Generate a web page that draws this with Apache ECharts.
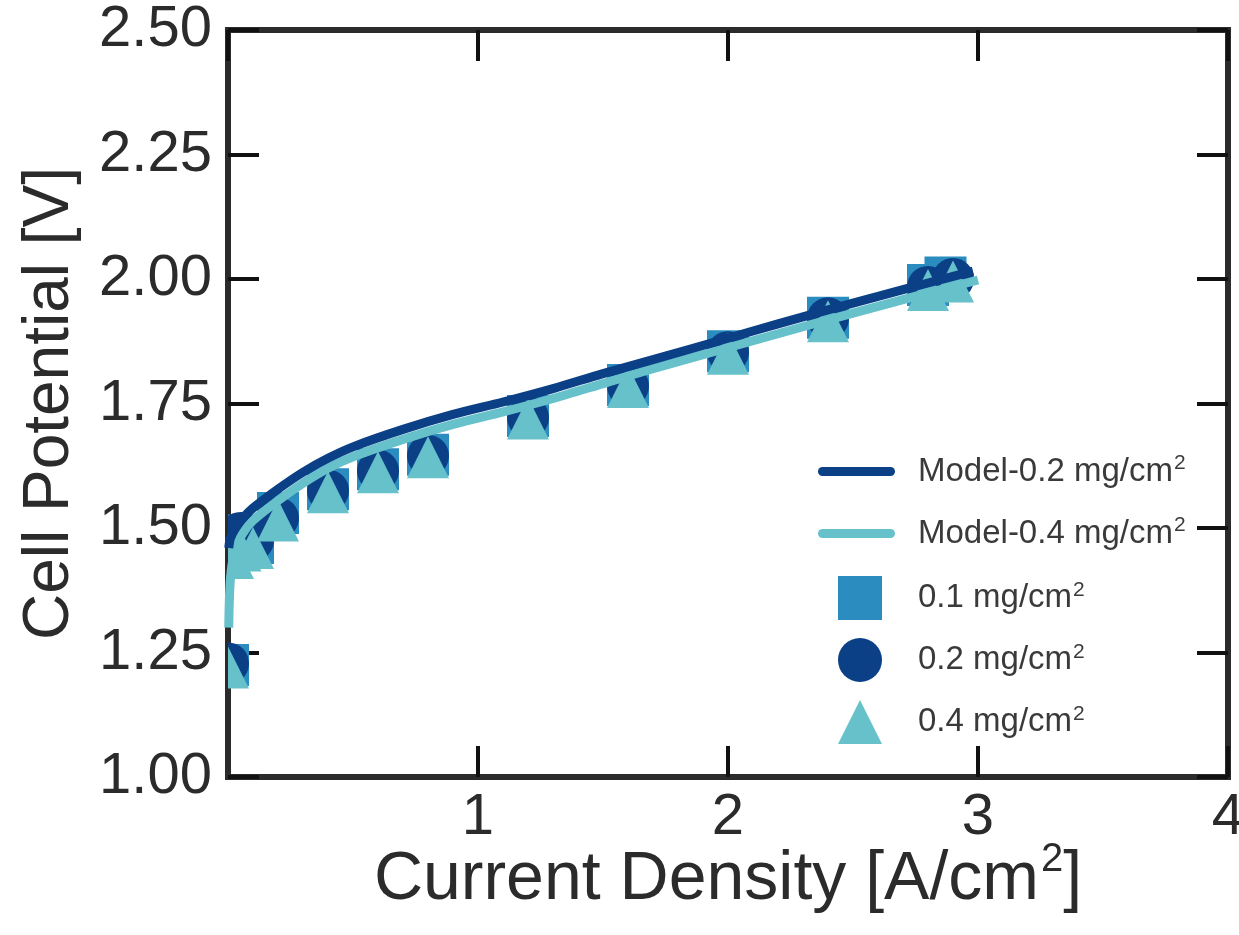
<!DOCTYPE html>
<html><head><meta charset="utf-8">
<script src="https://cdn.jsdelivr.net/npm/echarts@6/dist/echarts.min.js"></script>
<style>html,body{margin:0;padding:0;background:#fff}#c{width:1239px;height:935px}</style>
</head><body><div id="c"></div>
<script>
// ---- data ----
const xTickValues = [0, 1, 2, 3, 4];
const yTickValues = [1.00, 1.25, 1.50, 1.75, 2.00, 2.25, 2.50];

const modelDarkX = [0.003, 0.01, 0.03, 0.06, 0.1, 0.2, 0.3, 0.4, 0.5, 0.7, 0.9, 1.1, 1.3, 1.5, 1.7, 2.0, 2.2, 2.4, 2.6, 2.8, 2.98];
const modelDarkY = [1.46, 1.48, 1.50, 1.52, 1.54, 1.578, 1.612, 1.64, 1.663, 1.698, 1.728, 1.753, 1.780, 1.810, 1.838, 1.881, 1.910, 1.938, 1.965, 1.992, 2.016];

const modelLightX = [0.003, 0.01, 0.03, 0.06, 0.1, 0.2, 0.3, 0.4, 0.5, 0.7, 0.9, 1.1, 1.3, 1.5, 1.7, 2.0, 2.2, 2.4, 2.6, 2.8, 3.0];
const modelLightY = [1.30, 1.40, 1.46, 1.49, 1.515, 1.555, 1.59, 1.62, 1.643, 1.678, 1.708, 1.733, 1.760, 1.790, 1.820, 1.862, 1.890, 1.918, 1.945, 1.972, 1.998];

const sq01X = [0.0, 0.02, 0.05, 0.1, 0.2, 0.4, 0.6, 0.8, 1.2, 1.6, 2.0, 2.4, 2.8, 2.87];
const sq01Y = [1.225, 1.47, 1.485, 1.47, 1.53, 1.578, 1.618, 1.647, 1.725, 1.787, 1.855, 1.922, 1.988, 2.003];

const ci02X = [0.0, 0.02, 0.05, 0.1, 0.2, 0.4, 0.6, 0.8, 1.2, 1.6, 2.0, 2.4, 2.8, 2.9];
const ci02Y = [1.228, 1.48, 1.49, 1.475, 1.52, 1.575, 1.615, 1.645, 1.722, 1.785, 1.853, 1.921, 1.984, 2.0];

const tr04X = [0.0, 0.02, 0.05, 0.1, 0.2, 0.4, 0.6, 0.8, 1.2, 1.6, 2.0, 2.4, 2.8, 2.9];
const tr04Y = [1.22, 1.44, 1.455, 1.46, 1.515, 1.572, 1.612, 1.642, 1.72, 1.783, 1.85, 1.915, 1.978, 1.995];

const seriesNames = ['Model-0.2 mg/cm2', 'Model-0.4 mg/cm2', '0.1 mg/cm2', '0.2 mg/cm2', '0.4 mg/cm2'];

// ---- style ----
const C_DARK = '#0b3f86';
const C_LIGHT = '#66c1cb';
const C_SQ = '#2b8cc0';
const FONT = 'Liberation Sans, Arial, sans-serif';
const TXT = '#2b2b2b';

const zip = (xs, ys) => xs.map((x, i) => [x, ys[i]]);
const MS = 21;

function markerSeries(name, xs, ys, color, kind) {
  return {
    type: 'custom', name, clip: true,
    itemStyle: { color },
    data: zip(xs, ys),
    renderItem: (params, api) => {
      const p = api.coord([api.value(0), api.value(1)]);
      const style = { fill: color };
      if (kind === 'rect') return { type: 'rect', shape: { x: p[0] - MS, y: p[1] - MS, width: 2 * MS, height: 2 * MS }, style };
      if (kind === 'circle') return { type: 'circle', shape: { cx: p[0], cy: p[1], r: MS }, style };
      return { type: 'polygon', shape: { points: [[p[0], p[1] - MS], [p[0] + MS, p[1] + MS], [p[0] - MS, p[1] + MS]] }, style };
    }
  };
}

const legendRich = {
  t: { fontSize: 33, fontFamily: FONT, color: '#3a3a3a' },
  s: { fontSize: 21, fontFamily: FONT, color: '#3a3a3a', padding: [0, 0, 16, 1] }
};
const legendFmt = name => '{t|' + name.slice(0, -1) + '}{s|2}';
const linePath = 'path://M4.5,0 H72.5 A4.5,4.5 0 0 1 72.5,9 H4.5 A4.5,4.5 0 0 1 4.5,0 Z';

function lineLegend(name, top) {
  return {
    data: [{ name, icon: linePath }], left: 818, top, padding: 0, orient: 'vertical',
    itemWidth: 77, itemHeight: 9, selectedMode: false, formatter: legendFmt,
    textStyle: { padding: [0, 0, 0, 18], rich: legendRich }
  };
}
function markLegend(name, icon, top) {
  return {
    data: [{ name, icon }], left: 838, top, padding: 0, orient: 'vertical',
    itemWidth: 44, itemHeight: 44, selectedMode: false, formatter: legendFmt,
    textStyle: { padding: [0, 0, 0, 31], rich: legendRich }
  };
}

const chart = echarts.init(document.getElementById('c'), null, { renderer: 'canvas' });
const tick = () => ({ show: true, inside: true, length: 31, lineStyle: { color: '#111', width: 4 } });
const noLine = () => ({ show: false, onZero: false });

chart.setOption({
  animation: false,
  backgroundColor: '#fff',
  grid: { left: 228, right: 11, top: 30, bottom: 158, outerBoundsMode: 'none', containLabel: false,
    show: true, borderColor: '#2b2b2b', borderWidth: 6, backgroundColor: 'transparent' },
  xAxis: [
    {
      type: 'value', min: xTickValues[0], max: xTickValues[xTickValues.length - 1], interval: 1, position: 'bottom',
      axisLine: noLine(), splitLine: { show: false }, axisTick: tick(),
      axisLabel: { margin: 12, fontSize: 58, fontFamily: FONT, color: TXT, showMinLabel: false, formatter: v => String(v) },
      name: '{a|Current Density [A/cm}{s|2}{a|]}', nameLocation: 'middle', nameGap: 63, nameMoveOverlap: false,
      nameTextStyle: { rich: { a: { fontSize: 68, fontFamily: FONT, color: TXT }, s: { fontSize: 40, fontFamily: FONT, color: TXT, padding: [0, 0, 40, 2] } } }
    },
    {
      type: 'value', min: 0, max: 4, interval: 1, position: 'top',
      axisLine: noLine(), splitLine: { show: false }, axisTick: tick(), axisLabel: { show: false }
    }
  ],
  yAxis: [
    {
      type: 'value', min: yTickValues[0], max: yTickValues[yTickValues.length - 1], interval: 0.25, position: 'left',
      axisLine: noLine(), splitLine: { show: false }, axisTick: tick(),
      axisLabel: { margin: 16, fontSize: 58, fontFamily: FONT, color: TXT, formatter: v => v.toFixed(2) },
      name: 'Cell Potential [V]', nameLocation: 'middle', nameGap: 146, nameRotate: 90, nameMoveOverlap: false,
      nameTextStyle: { fontSize: 64, fontFamily: FONT, color: TXT }
    },
    {
      type: 'value', min: 1, max: 2.5, interval: 0.25, position: 'right',
      axisLine: noLine(), splitLine: { show: false }, axisTick: tick(), axisLabel: { show: false }
    }
  ],
  legend: [
    lineLegend(seriesNames[0], 453),
    lineLegend(seriesNames[1], 515),
    markLegend(seriesNames[2], 'rect', 576),
    markLegend(seriesNames[3], 'circle', 638),
    markLegend(seriesNames[4], 'triangle', 700)
  ],
  series: [
    { type: 'line', name: seriesNames[1], data: zip(modelLightX, modelLightY), showSymbol: false, symbol: 'none', smooth: 0.3,
      lineStyle: { color: C_LIGHT, width: 9 }, itemStyle: { color: C_LIGHT } },
    { type: 'line', name: seriesNames[0], data: zip(modelDarkX, modelDarkY), showSymbol: false, symbol: 'none', smooth: 0.3,
      lineStyle: { color: C_DARK, width: 9 }, itemStyle: { color: C_DARK } },
    markerSeries(seriesNames[2], sq01X, sq01Y, C_SQ, 'rect'),
    markerSeries(seriesNames[3], ci02X, ci02Y, C_DARK, 'circle'),
    markerSeries(seriesNames[4], tr04X, tr04Y, C_LIGHT, 'triangle')
  ]
});
</script></body></html>
